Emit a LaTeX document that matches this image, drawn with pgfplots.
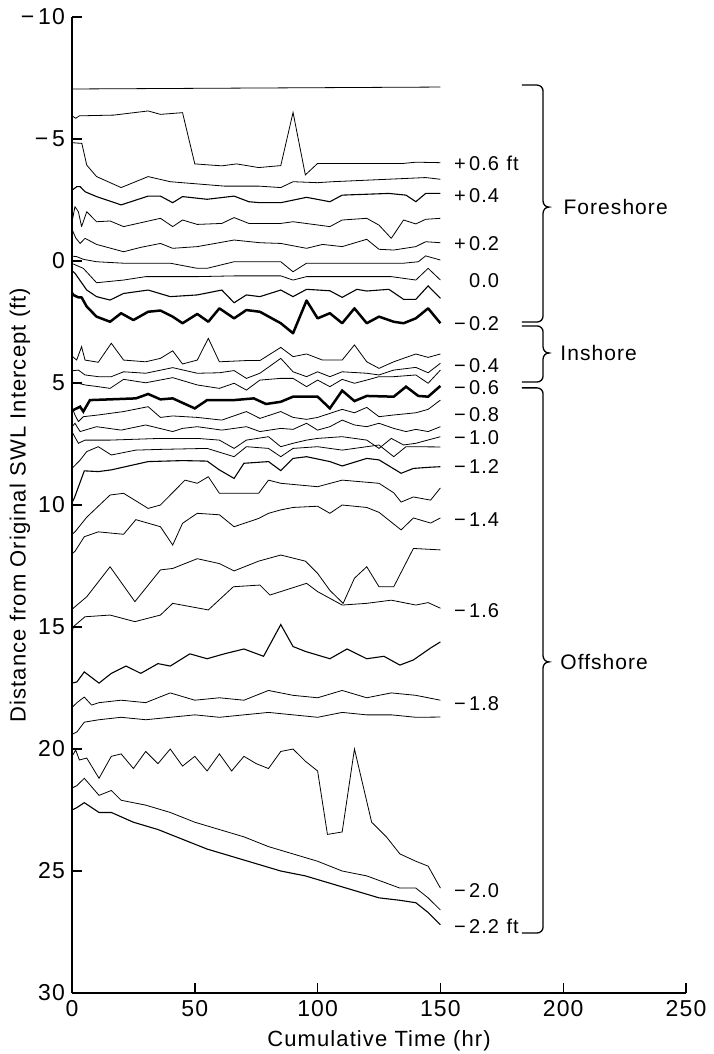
\documentclass[border=0pt]{standalone}
\usepackage{fontspec}
\setmainfont[LetterSpace=5]{Liberation Sans}
\usepackage{pgfplots}
\pgfplotsset{compat=1.18}
\begin{document}
\begin{tikzpicture}
\begin{axis}[
 scale only axis, width=307pt, height=488pt,
 xmin=0, xmax=250, ymin=-10, ymax=30, y dir=reverse,
 axis x line=bottom, axis y line=left,
 axis line style={-, line width=1.1pt},
 tick align=inside, major tick length=5pt,
 tick style={line width=0.7pt, black},
 xtick={0,50,100,150,200,250}, xticklabels={0,50,100,150,200,250},
 ytick={-10,-5,...,30}, yticklabels={−\,10,−\,5,0,5,10,15,20,25,30},
 ticklabel style={font=\fontsize{11.5}{13}\selectfont},
 xlabel={Cumulative Time (hr)},
 ylabel={Distance from Original SWL Intercept (ft)},
 label style={font=\fontsize{11}{13}\selectfont},
 ylabel style={at={(axis description cs:-0.085,0.5)}, anchor=center},
 clip=false,
 cycle list={{black, solid, no markers, line width=0.55pt, line join=round}},
]
% L1
\addplot coordinates {(0,-7.05) (150,-7.13)};
% L2
\addplot coordinates {(0,-5.95) (1.5,-5.85) (3,-5.95) (17,-5.98) (31,-6.15) (36,-6.01) (45,-6.08) (50,-3.98) (61,-3.90) (67,-3.98) (76,-3.83) (85,-3.91) (90,-6.09) (95,-3.53) (100,-4.00) (135,-4.00) (140,-4.05) (150,-4.03)};
% L3
\addplot coordinates {(0,-4.85) (4,-4.82) (6,-3.93) (10,-3.46) (20,-3.01) (31,-3.46) (40,-3.25) (62,-3.07) (76,-3.07) (85,-3.01) (90,-3.25) (100,-3.21) (106,-3.25) (144,-3.42) (150,-3.35)};
% L4
\addplot coordinates {(0,-2.90) (2,-3.05) (3.3,-3.05) (5.3,-2.84) (10,-2.64) (20,-2.30) (31,-2.66) (36,-2.66) (41,-2.39) (45,-2.64) (55,-2.53) (66,-2.66) (72,-2.43) (76.5,-2.39) (85,-2.39) (95.5,-2.61) (105,-2.43) (110,-2.70) (129,-2.77) (136,-2.70) (140,-2.43) (144,-2.77) (150,-2.77)};
% L5
\addplot coordinates {(0,-1.60) (1.2,-2.23) (2.6,-2.02) (3.9,-1.41) (6,-2.02) (10,-1.61) (15.5,-1.64) (21,-1.41) (36,-1.75) (41,-1.41) (45,-1.68) (51,-1.50) (61,-1.54) (66,-1.78) (72,-1.54) (85,-1.54) (90,-1.61) (105,-1.41) (110,-1.68) (120,-1.75) (125,-1.47) (130,-0.93) (135,-1.68) (140,-1.52) (144,-1.71) (150,-1.75)};
% L6
\addplot coordinates {(0,-1.30) (1.5,-0.95) (3.3,-0.72) (5.3,-0.93) (10,-0.68) (21,-0.38) (28,-0.56) (36,-0.72) (41,-0.52) (51,-0.59) (66,-0.86) (76.5,-0.75) (85,-0.72) (95.5,-0.52) (102,-0.68) (110,-0.59) (120,-0.89) (125,-0.48) (131,-0.45) (140,-0.59) (144,-0.79) (150,-0.75)};
% L7
\addplot coordinates {(0,-0.20) (1.9,-0.18) (4.6,-0.07) (10,0.03) (21,0.09) (40,0.09) (51,0.30) (55,0.30) (66,0.03) (85,0.03) (90,0.44) (95.5,0.09) (135,0.09) (141,0.03) (144,-0.21) (150,-0.04)};
% L8
\addplot coordinates {(0,0.10) (4.6,0.30) (10,0.89) (21,0.78) (30,0.64) (51,0.64) (66,0.61) (85,0.61) (90,0.78) (95.5,0.64) (130,0.64) (140,0.78) (145,0.30) (150,0.78)};
% L9
\addplot coordinates {(0,0.40) (1.2,0.50) (6,1.19) (10,1.46) (15.5,1.60) (21,1.33) (31,1.19) (40,1.46) (51,1.39) (61,1.19) (66,1.71) (71,1.39) (76.5,1.46) (85,1.19) (90,1.46) (95.5,1.16) (105,1.22) (110,1.49) (116,1.16) (120,1.23) (129,1.16) (135,1.57) (140,1.57) (145,1.02) (150,1.53)};
% L10 bold
\addplot+[line width=1.25pt] coordinates {(0,1.30) (0.5,1.39) (2.6,1.49) (3.9,1.49) (6,1.87) (10,2.28) (15.5,2.49) (20,2.14) (25,2.42) (31,2.08) (36,2.03) (41,2.28) (45,2.55) (51,2.17) (55.5,2.49) (60,1.94) (66,2.35) (71,2.01) (76.5,2.08) (85,2.55) (90,2.96) (95.5,1.62) (100,2.35) (105,2.14) (110,2.55) (115,1.94) (120,2.55) (125,2.28) (131,2.49) (135,2.55) (140,2.35) (145,1.94) (150,2.55)};
% L11
\addplot coordinates {(0,3.90) (1.9,4.06) (3.9,3.51) (5.3,4.06) (10.7,4.15) (16,3.37) (21,4.06) (30,4.13) (36,3.99) (41,3.68) (45,4.22) (51,4.06) (55.5,3.17) (60,4.13) (71,4.08) (76.5,4.08) (85,3.54) (90,3.92) (95.5,3.81) (102,4.06) (110,4.06) (115,3.44) (120,4.13) (125,4.40) (131,4.13) (140,3.81) (145,3.95) (150,3.81)};
% L12
\addplot coordinates {(0,4.50) (2.6,4.47) (5.3,4.67) (10.7,4.74) (16,4.74) (21,4.54) (30,4.60) (41,4.37) (51,4.60) (60,4.58) (66,4.49) (71,4.81) (76.5,4.60) (85,3.99) (90,4.54) (95.5,4.74) (100,4.54) (105,4.74) (110,4.54) (120,4.60) (125,4.67) (131,4.47) (140,4.36) (145,4.58) (150,4.19)};
% L13
\addplot coordinates {(0,5.00) (2.6,5.01) (5.3,5.08) (10.7,5.15) (15.5,5.22) (21,4.85) (30,4.99) (41,4.78) (51,5.08) (60,5.22) (66,5.01) (71,5.29) (76.5,4.88) (85,4.81) (90,4.81) (95.5,5.15) (100,4.88) (105,5.15) (110,4.85) (115,5.01) (120,4.88) (125,4.74) (131,4.74) (140,4.67) (145,5.01) (150,4.47)};
% L14 bold
\addplot+[line width=1.25pt] coordinates {(0,6.10) (0.5,6.11) (3.3,5.97) (4.6,6.17) (7.3,5.70) (15.5,5.67) (26,5.63) (31,5.45) (36,5.67) (41,5.63) (50,6.04) (55,5.70) (66,5.70) (74,5.63) (79,5.86) (85,5.77) (90,5.56) (100,5.56) (105,6.04) (110,5.31) (115,5.74) (120,5.53) (131,5.56) (136,5.15) (141,5.53) (145,5.56) (150,5.12)};
% L15
\addplot coordinates {(0,6.00) (1.2,6.31) (2.6,6.58) (4.6,6.38) (10.7,6.31) (21,6.17) (31,5.97) (36,6.41) (41,6.35) (51,6.41) (61,6.52) (71,6.17) (76.5,6.45) (85,6.17) (90,6.41) (95.5,6.49) (100,6.41) (110,6.08) (115,6.22) (120,6.00) (125,6.38) (131,6.31) (140,6.22) (145,6.08) (150,5.70)};
% L16
\addplot coordinates {(0,6.80) (1.2,6.65) (3.3,6.99) (5.3,6.93) (10,6.79) (20,6.93) (30,6.72) (41,6.99) (45,6.86) (51,6.79) (61,6.93) (71,6.79) (76.5,6.99) (85,6.86) (90,6.90) (95.5,6.65) (100,6.93) (105,6.79) (110,6.52) (115,6.72) (120,6.79) (125,6.65) (131,6.86) (136,6.99) (140,6.90) (145,6.99) (150,6.79)};
% L17
\addplot coordinates {(0,7.00) (2.6,7.47) (5.3,7.34) (15.5,7.34) (36,7.27) (51,7.27) (60,7.34) (66,7.68) (71,7.34) (80,7.20) (85,7.61) (90,7.47) (95.5,7.34) (100,7.27) (110,7.20) (120,7.34) (125,7.68) (130,7.27) (135,7.54) (140,7.47) (150,7.20)};
% L18
\addplot coordinates {(0,8.50) (3.3,8.16) (6,7.81) (10.7,7.61) (16,7.95) (26,7.75) (36,7.72) (55,7.68) (66,8.02) (71,7.61) (80,7.68) (85,8.02) (90,7.68) (100,7.61) (110,7.75) (120,7.61) (125,7.54) (131,8.02) (136,7.61) (150,7.62)};
% L19
\addplot coordinates {(0,9.9) (1,9.7) (5,8.6) (10.7,8.63) (16,8.56) (31,8.22) (45,8.18) (55,8.2) (60,8.56) (66,8.91) (70,8.29) (80,8.22) (85,8.59) (90,8.09) (95.5,8.02) (105,8.22) (110,8.40) (120,8.09) (125,8.15) (134,8.7) (139,8.5) (146,8.45) (150,8.43)};
% L20
\addplot coordinates {(0,11.2) (1.2,11.1) (6,10.5) (15.5,9.59) (21,9.52) (31,10.14) (36,10.0) (46,8.98) (51,9.11) (55.5,8.84) (60,9.52) (76,9.52) (80,8.98) (85,9.11) (100,9.25) (110,8.98) (125,9.11) (131,9.5) (134,9.88) (139,9.67) (146,9.80) (150,9.30)};
% L21
\addplot coordinates {(0,12.0) (1.2,11.9) (5,11.3) (10.7,11.1) (21,11.2) (26,10.6) (36,10.89) (41,11.64) (45,10.75) (51,10.34) (60,10.4) (66,10.89) (76,10.55) (80,10.34) (85,10.2) (90,10.1) (100,10.05) (105,10.34) (110,10.0) (120,10.1) (125,10.3) (134,11.02) (139,10.53) (146,10.74) (150,10.53)};
% L22
\addplot coordinates {(0,14.3) (0.5,14.23) (6,13.76) (15.5,12.53) (25.6,13.96) (36,12.66) (41,12.6) (51,12.2) (60,12.4) (66,12.7) (76,12.3) (85,12.05) (95,12.3) (100,12.8) (105,13.5) (110.4,14.03) (115,13.0) (120,12.53) (125,13.35) (131,13.35) (139,11.78) (150,11.84)};
% L23
\addplot coordinates {(0,15.3) (0.5,14.99) (5.3,14.58) (15.5,14.51) (25.6,14.78) (36,14.51) (41,14.03) (55.5,14.3) (65.7,13.35) (76.5,13.28) (80.6,13.69) (95.5,13.21) (100,13.55) (110,14.1) (120,14.03) (130,13.9) (140,14.1) (145,14.0) (150,14.23)};
% L24
\addplot coordinates {(0,17.3) (2,17.25) (5,16.84) (11,17.3) (16,16.9) (22,16.6) (28,16.9) (35,16.5) (40,16.6) (48,16.1) (55,16.3) (62,16.1) (70,15.9) (78,16.2) (85,14.9) (90,15.8) (95,16.0) (105,16.3) (112,15.9) (120,16.3) (127,16.2) (133.5,16.56) (139,16.35) (146,15.86) (150,15.61)};
% L25
\addplot coordinates {(0,18.3) (2,18.1) (5,17.87) (8,18.2) (11,18.1) (20,18.0) (30,18.1) (40,17.7) (50,18.0) (60,17.9) (70,18.0) (80,17.6) (90,17.8) (100,17.9) (110,17.6) (120,17.9) (130,17.7) (140,17.8) (150,18.0)};
% L26
\addplot coordinates {(0,19.4) (2,19.3) (5,18.9) (11,18.8) (20,18.7) (30,18.8) (40,18.7) (50,18.6) (60,18.7) (70,18.6) (80,18.5) (90,18.6) (100,18.7) (110,18.5) (120,18.6) (130,18.6) (140,18.7) (150,18.69)};
% L27
\addplot coordinates {(0,20.3) (1.5,20.04) (3,20.45) (6,20.37) (11,21.2) (16,20.3) (20,20.2) (25,20.8) (30,20.1) (35,20.6) (40,20.0) (45,20.7) (50,20.3) (55,20.9) (60,20.2) (65,20.9) (70,20.3) (75,20.6) (80,20.8) (85,20.1) (90,20.0) (95,20.5) (100,20.9) (104,23.5) (110,23.4) (115,20.0) (122,23.0) (128,23.6) (133.5,24.3) (140,24.6) (145,24.8) (150,25.7)};
% L28
\addplot coordinates {(0,21.6) (2,21.5) (5,21.2) (11,21.9) (16,21.7) (20,22.1) (30,22.3) (40,22.6) (50,23.0) (60,23.3) (70,23.6) (80,24.0) (90,24.3) (100,24.6) (110,25.0) (120,25.2) (133.5,25.7) (140,25.7) (145,26.1) (150,26.6)};
% L29
\addplot coordinates {(0,22.5) (2,22.4) (5,22.2) (11,22.6) (16,22.6) (25,23.0) (35,23.3) (45,23.7) (55,24.1) (65,24.4) (75,24.7) (85,25.0) (95,25.2) (105,25.5) (115,25.8) (125,26.1) (133.5,26.2) (140,26.3) (145,26.7) (150,27.2)};

% right-hand labels
\begin{scope}[every node/.style={font=\fontsize{10}{11}\selectfont, inner sep=0pt, yshift=-3.6pt}]
\node[anchor=base east] at (axis cs:174,-4.02) {+\,0.6};
\node[anchor=base west] at (axis cs:176.8,-4.02) {ft};
\node[anchor=base east] at (axis cs:174,-2.70) {+\,0.4};
\node[anchor=base east] at (axis cs:174,-0.74) {+\,0.2};
\node[anchor=base east] at (axis cs:174,0.78) {0.0};
\node[anchor=base east] at (axis cs:174,2.54) {−\,0.2};
\node[anchor=base east] at (axis cs:174,4.26) {−\,0.4};
\node[anchor=base east] at (axis cs:174,5.16) {−\,0.6};
\node[anchor=base east] at (axis cs:174,6.27) {−\,0.8};
\node[anchor=base east] at (axis cs:174,7.21) {−\,1.0};
\node[anchor=base east] at (axis cs:174,8.40) {−\,1.2};
\node[anchor=base east] at (axis cs:174,10.57) {−\,1.4};
\node[anchor=base east] at (axis cs:174,14.30) {−\,1.6};
\node[anchor=base east] at (axis cs:174,18.11) {−\,1.8};
\node[anchor=base east] at (axis cs:174,25.78) {−\,2.0};
\node[anchor=base east] at (axis cs:174,27.25) {−\,2.2};
\node[anchor=base west] at (axis cs:176.8,27.25) {ft};
\end{scope}

% braces
\begin{scope}[line width=0.65pt]
\draw (axis cs:183.2,-7.21) -- ([xshift=-3pt]axis cs:191.8,-7.21) to[out=0,in=90] ([yshift=-3pt]axis cs:191.8,-7.21)
  -- ([yshift=3pt]axis cs:191.8,-2.21) to[out=-90,in=180] (axis cs:194.2,-2.21) to[out=180,in=90] ([yshift=-3pt]axis cs:191.8,-2.21)
  -- ([yshift=3pt]axis cs:191.8,2.50) to[out=-90,in=0] ([xshift=-3pt]axis cs:191.8,2.50) -- (axis cs:183.2,2.50);
\draw (axis cs:183.2,2.66) -- ([xshift=-3pt]axis cs:191.8,2.66) to[out=0,in=90] ([yshift=-3pt]axis cs:191.8,2.66)
  -- ([yshift=3pt]axis cs:191.8,3.77) to[out=-90,in=180] (axis cs:194.2,3.77) to[out=180,in=90] ([yshift=-3pt]axis cs:191.8,3.77)
  -- ([yshift=3pt]axis cs:191.8,4.96) to[out=-90,in=0] ([xshift=-3pt]axis cs:191.8,4.96) -- (axis cs:183.2,4.96);
\draw (axis cs:183.2,5.20) -- ([xshift=-3pt]axis cs:191.8,5.20) to[out=0,in=90] ([yshift=-3pt]axis cs:191.8,5.20)
  -- ([yshift=3pt]axis cs:191.8,16.43) to[out=-90,in=180] (axis cs:194.2,16.43) to[out=180,in=90] ([yshift=-3pt]axis cs:191.8,16.43)
  -- ([yshift=3pt]axis cs:191.8,27.54) to[out=-90,in=0] ([xshift=-3pt]axis cs:191.8,27.54) -- (axis cs:183.2,27.54);
\end{scope}
\begin{scope}[every node/.style={font=\fontsize{10.5}{12}\selectfont, anchor=west, inner sep=0pt}]
\node at (axis cs:200,-2.21) {Foreshore};
\node at (axis cs:198.7,3.77) {Inshore};
\node at (axis cs:198.7,16.43) {Offshore};
\end{scope}

\coordinate (BL) at (axis cs:-29.32,32.50);
\coordinate (TR) at (axis cs:261.0,-10.697);
\end{axis}
\pgfresetboundingbox
\path[use as bounding box] (BL) rectangle (TR);
\end{tikzpicture}
\end{document}
